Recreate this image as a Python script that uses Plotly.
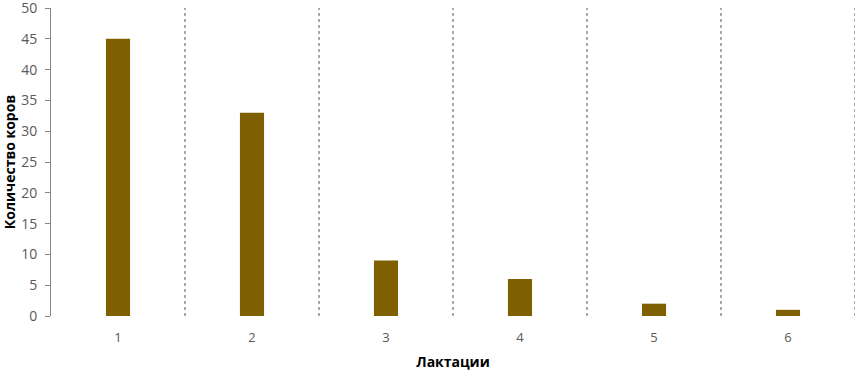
import plotly.graph_objects as go

categories = [1, 2, 3, 4, 5, 6]
values = [45, 33, 9, 6, 2, 1]
y_ticks = [0, 5, 10, 15, 20, 25, 30, 35, 40, 45, 50]
separators = [1.5, 2.5, 3.5, 4.5, 5.5, 6.5]

fig = go.Figure(go.Bar(
    x=categories, y=values, width=0.18,
    marker=dict(color="#7F6000", line=dict(width=0)),
))

for s in separators:
    fig.add_shape(type="line", xref="x", yref="paper", x0=s, x1=s, y0=0, y1=1,
                  line=dict(color="#555555", width=1, dash="3px,3px"), layer="below")

fig.update_layout(
    width=858, height=371,
    margin=dict(l=51, r=3, t=8, b=55, autoexpand=False),
    paper_bgcolor="white", plot_bgcolor="white",
    showlegend=False,
    font=dict(family="Open Sans", color="#595959", size=13),
    xaxis=dict(
        range=[0.5, 6.5], tickvals=categories, ticktext=[str(c) for c in categories],
        showgrid=False, showline=False, zeroline=False, ticks="",
        ticklabelstandoff=12, automargin=False,
        title=dict(text="<b>Лактации</b>", font=dict(size=14, color="black", family="Open Sans"), standoff=12),
    ),
    yaxis=dict(
        range=[0, 50.0001], tickvals=y_ticks, showgrid=False, zeroline=False,
        showline=True, linecolor="#868686", linewidth=1,
        ticks="outside", ticklen=5, tickcolor="#868686", automargin=False,
        ticklabeloverflow="allow", tickfont=dict(size=14), ticklabelstandoff=5,
        title=dict(text="<b>Количество коров</b>", font=dict(size=14, color="black", family="Open Sans"), standoff=4),
    ),
)

fig.write_html("out.html", config={"displayModeBar": False},
               post_script="document.body.style.margin='0';document.body.style.padding='0';")
